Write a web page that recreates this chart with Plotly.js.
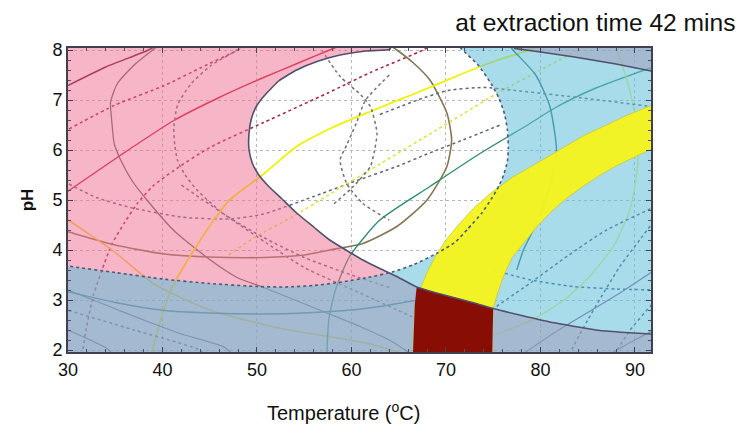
<!DOCTYPE html>
<html><head><meta charset="utf-8">
<script src="https://cdn.plot.ly/plotly-3.0.1.min.js"></script>
<style>html,body{margin:0;padding:0;background:#fff}#chart{width:737px;height:425px}</style>
</head><body><div id="chart"></div>
<script>
// ---------- tick labels ----------
const xTicks = [30, 40, 50, 60, 70, 80, 90];
const yTicks = [2, 3, 4, 5, 6, 7, 8];

// ---------- region boundaries (Temperature, pH) ----------
// boundary 1 (solid): from top, round the left vertex, down to right edge
const e1T  = [64.0, 64.1, 61.5, 58.8, 56.5, 54.2, 52.3, 50.7, 49.9, 49.4, 49.15, 49.15, 49.5, 50.2, 51.2, 52.6, 54.2, 56.0, 57.7, 59.5, 61.2, 63.0, 64.8, 66.9, 69.0, 71.0, 73.0, 75.0, 78.0, 81.0, 84.0, 86.3, 89.0, 92.5];
const e1PH = [8.2, 8.02, 7.98, 7.9, 7.78, 7.6, 7.38, 7.07, 6.86, 6.62, 6.32, 6.02, 5.74, 5.5, 5.28, 5.03, 4.74, 4.46, 4.2, 3.99, 3.8, 3.63, 3.47, 3.26, 3.14, 3.04, 2.94, 2.83, 2.69, 2.56, 2.46, 2.39, 2.35, 2.31];
// boundary 1, top-right part
const e1TRT  = [76.6, 77.3, 80.0, 83.6, 88.0, 92.5];
const e1TRPH = [8.2, 8.03, 7.96, 7.86, 7.72, 7.55];
// boundary 2 (dotted): from left edge, under, round right vertex, up to top
const e2T  = [29, 30, 35, 40, 45, 50, 53, 56, 59, 62, 64.5, 66.6, 69.1, 71.0, 72.3, 73.8, 74.8, 75.6, 76.1, 76.5, 76.6, 76.5, 76.2, 75.6, 74.8, 73.4, 71.6, 70.9];
const e2PH = [3.72, 3.68, 3.55, 3.42, 3.33, 3.27, 3.26, 3.29, 3.36, 3.46, 3.57, 3.71, 3.94, 4.16, 4.42, 4.74, 5.02, 5.28, 5.5, 5.77, 6.04, 6.4, 6.72, 7.04, 7.32, 7.7, 8.03, 8.2];
// yellow band edges
const yLeftT   = [66.5, 66.6, 66.7, 66.9, 67.3, 68.0, 68.9, 70.0, 71.4, 73.0, 74.9, 77.0, 79.3, 82.0, 84.7, 87.0, 89.0, 92.5];
const yLeftPH  = [1.9, 2.3, 2.8, 3.05, 3.24, 3.55, 3.88, 4.2, 4.52, 4.85, 5.16, 5.45, 5.7, 6.0, 6.3, 6.5, 6.68, 6.95];
const yRightT  = [74.9, 74.9, 75.0, 75.4, 76.1, 77.0, 78.2, 79.6, 81.1, 82.8, 84.7, 86.5, 88.2, 90.2, 92.5];
const yRightPH = [1.9, 2.4, 2.83, 3.1, 3.48, 3.85, 4.14, 4.46, 4.76, 5.04, 5.3, 5.52, 5.7, 5.88, 6.08];
// dark-red block (yellow band below boundary 1)
const redT  = [66.5, 66.6, 66.7, 66.9, 69.0, 71.0, 73.0, 75.0, 74.95, 74.9];
const redPH = [1.9, 2.4, 2.9, 3.26, 3.14, 3.04, 2.94, 2.83, 2.4, 1.9];

// ---------- contour lines ----------
const lines = [
  {name:'maroon',   T:[30, 34, 38.4, 39.5], P:[7.29, 7.66, 7.99, 8.1], c:'#6a0a2a', d:'solid', w:1.4},
  {name:'red',      T:[29.5, 30.1, 35.2, 41.2, 46, 50.7, 54.5, 57.7, 59], P:[5.12, 5.19, 5.85, 6.59, 7.05, 7.45, 7.75, 8.0, 8.1], c:'#d0102e', d:'solid', w:1.4},
  {name:'redDot1',  T:[30.1, 35, 40.2, 44, 47.9, 49], P:[6.42, 6.9, 7.29, 7.64, 7.99, 8.1], c:'#b0204a', d:'dot', w:1.6},
  {name:'redDot2',  T:[31.5, 31.9, 32.7, 33.6, 34.6, 36, 37.3, 39, 41.2, 45, 50.7, 57.5, 62, 67.6, 68.5], P:[1.9, 2.4, 3.1, 3.6, 4.1, 4.55, 4.92, 5.28, 5.59, 6.05, 6.55, 7.14, 7.55, 8.0, 8.1], c:'#b0204a', d:'dot', w:1.6},
  {name:'greyEll',  T:[40, 39.1, 37, 35.2, 34.5, 34.6, 34.9, 35.6, 36.8, 38.4, 41.2, 44.7, 47.9, 50.7, 54, 57.4, 60.9, 64, 66.5], P:[8.15, 8.02, 7.7, 7.32, 6.95, 6.65, 6.12, 5.79, 5.38, 4.99, 4.39, 3.85, 3.45, 3.25, 3.0, 2.74, 2.47, 2.2, 1.9], c:'#5e665a', d:'solid', w:1.3},
  {name:'dotCircle',T:[49, 47.9, 45.2, 43, 41.6, 41.2, 41.3, 41.6, 42.4, 43.7, 46.5, 50.7, 55, 60, 64], P:[8.15, 8.0, 7.7, 7.32, 6.9, 6.45, 6.1, 5.79, 5.5, 5.19, 4.72, 4.25, 3.85, 3.5, 3.25], c:'#606878', d:'dot', w:1.5},
  {name:'dotArcH',  T:[30.1, 33, 36.6, 42, 47.1, 50.7, 56, 60, 64.8, 68, 71.8, 76], P:[5.32, 5.05, 4.85, 4.66, 4.62, 4.72, 5.07, 5.35, 5.67, 5.92, 6.2, 6.52], c:'#606878', d:'dot', w:1.5},
  {name:'dotDiag',  T:[42, 44.3, 51, 55, 60.9, 66, 70], P:[5.3, 5.0, 4.14, 3.65, 3.14, 2.7, 2.35], c:'#606878', d:'dot', w:1.5},
  {name:'olive',    T:[29.5, 30.1, 35, 40.2, 45, 50.7, 55, 57.7, 61.2, 64.8, 68, 70.1, 70.6, 70.1, 68.3, 66.5, 64.8, 64], P:[4.39, 4.36, 4.1, 3.92, 3.86, 3.85, 3.9, 4.0, 4.13, 4.47, 5.0, 5.67, 6.2, 6.74, 7.4, 7.75, 8.0, 8.1], c:'#857552', d:'solid', w:1.6},
  {name:'yellow',   T:[38.8, 39.5, 40.3, 41.2, 43, 45.4, 47.1, 50.7, 54.2, 58, 62, 67, 71.8, 75.5, 78.9, 80], P:[1.9, 2.4, 2.9, 3.32, 3.9, 4.59, 5.0, 5.52, 6.07, 6.45, 6.77, 7.15, 7.53, 7.8, 8.0, 8.1], c:'#f2f200', d:'solid', w:1.8},
  {name:'yellow2',  T:[29.5, 30.1, 35, 39.1, 45, 52, 61.7, 66], P:[4.66, 4.59, 3.95, 3.32, 2.8, 2.45, 2.13, 1.9], c:'#f0d030', d:'solid', w:1.5},
  {name:'yellowDot',T:[47, 50, 53.8, 58, 63, 69, 75.4, 80, 84], P:[3.9, 4.28, 4.67, 5.15, 5.72, 6.4, 7.13, 7.6, 8.0], c:'#e2e23a', d:'dot', w:1.6},
  {name:'green',    T:[57.4, 57.6, 58.3, 59.8, 63, 68.3, 73.6, 78.9, 81.6, 86, 92.5], P:[1.9, 2.6, 3.2, 3.87, 4.6, 5.27, 5.93, 6.53, 6.85, 7.25, 7.7], c:'#2f8f6f', d:'solid', w:1.4},
  {name:'teal',     T:[76.5, 77.1, 79.5, 81, 81.7, 81.3, 80.5, 79.5, 78.2, 77.5], P:[8.15, 8.0, 7.5, 6.87, 6.0, 5.5, 5.0, 4.5, 4.0, 3.6], c:'#2a7070', d:'solid', w:1.4},
  {name:'lightArc', T:[87.5, 88, 89.3, 90.2, 90.3, 89.5, 87.8, 85.2, 82.5, 79.1, 75, 70], P:[8.15, 8.04, 7.3, 6.51, 5.7, 4.82, 4.1, 3.47, 3.0, 2.6, 2.3, 2.0], c:'#e8f070', d:'solid', w:1.4},
  {name:'dotArcTop',T:[63, 67, 70.2, 74, 77.3, 84, 92.5], P:[6.71, 7.0, 7.19, 7.25, 7.19, 7.05, 6.85], c:'#606878', d:'dot', w:1.5},
  {name:'lens1',    T:[56.5, 58.8, 61, 62, 62.7, 62.4, 62, 60.2, 58], P:[8.1, 7.47, 7.1, 6.87, 6.34, 5.95, 5.67, 5.27, 4.9], c:'#707070', d:'dot', w:1.5},
  {name:'lens2',    T:[64, 61.5, 60.5, 59.5, 58.8, 59.5, 61.2, 64], P:[7.5, 7.0, 6.53, 6.1, 5.8, 5.33, 4.93, 4.6], c:'#707070', d:'dot', w:1.5},
  {name:'bDot1',    T:[74.8, 79, 83, 87, 91.6, 92.5], P:[2.8, 3.35, 3.9, 4.4, 4.82, 4.9], c:'#3a5a80', d:'dot', w:1.5},
  {name:'bDot2',    T:[83, 85, 88.4, 90.5, 92.5], P:[1.9, 2.6, 3.67, 4.2, 4.7], c:'#3a5a80', d:'dot', w:1.5},
  {name:'bDot3',    T:[75, 79, 83.5, 88, 92.5], P:[3.6, 3.4, 3.27, 3.22, 3.2], c:'#3a5a80', d:'dot', w:1.5},
  {name:'bDot4',    T:[87.8, 89.5, 91.6, 92.5], P:[1.9, 2.4, 2.87, 3.05], c:'#3a5a80', d:'dot', w:1.5},
  {name:'purple1',  T:[78, 81.5, 85, 88.5, 92.5], P:[1.9, 2.35, 2.75, 3.15, 3.65], c:'#8a5a9a', d:'solid', w:1.3},
  {name:'purple2',  T:[87.2, 89.5, 92.5], P:[1.9, 2.15, 2.45], c:'#8a5a9a', d:'solid', w:1.3},
  {name:'sTeal',    T:[29.5, 30.1, 35, 40.2, 45, 50.7, 55, 60, 64, 67], P:[3.18, 3.16, 2.95, 2.79, 2.74, 2.72, 2.74, 2.8, 2.9, 3.0], c:'#1f7080', d:'solid', w:1.3},
  {name:'sGrey1',   T:[29.5, 30.1, 34, 38, 42, 46.5, 47.5], P:[3.23, 3.19, 2.9, 2.6, 2.32, 2.06, 1.9], c:'#5a5a78', d:'solid', w:1.3},
  {name:'sGrey2',   T:[29.5, 30.1, 34.2, 34.7], P:[2.43, 2.39, 2.02, 1.9], c:'#5a5a78', d:'solid', w:1.3},
  {name:'sDot',     T:[29.5, 30.1, 37, 43.7, 44.5], P:[2.83, 2.79, 2.4, 2.02, 1.9], c:'#3a5a80', d:'dot', w:1.5}
];

const traces = [];
lines.forEach(l => traces.push({x:l.T, y:l.P, mode:'lines', type:'scatter', hoverinfo:'skip',
  line:{color:l.c, width:l.w, dash:l.d, shape:'spline', smoothing:0.6}}));

// pink layer: outside boundary 1
traces.push({x:[29].concat(e1T, [93, 93, 29]), y:[8.2].concat(e1PH, [2.31, 1.8, 1.8]),
  mode:'lines', fill:'toself', fillcolor:'rgba(240,110,145,0.5)', line:{width:0, shape:'spline', smoothing:0.5}, hoverinfo:'skip'});
traces.push({x:e1TRT.concat([93, 93]), y:e1TRPH.concat([7.55, 8.2]),
  mode:'lines', fill:'toself', fillcolor:'rgba(240,110,145,0.5)', line:{width:0}, hoverinfo:'skip'});
// blue layer: outside boundary 2
traces.push({x:e2T.concat([93, 93, 29]), y:e2PH.concat([8.2, 1.8, 1.8]),
  mode:'lines', fill:'toself', fillcolor:'rgba(94,190,216,0.54)', line:{width:0, shape:'spline', smoothing:0.5}, hoverinfo:'skip'});
// yellow band
traces.push({x:yLeftT.concat(yRightT.slice().reverse()), y:yLeftPH.concat(yRightPH.slice().reverse()),
  mode:'lines', fill:'toself', fillcolor:'rgba(244,244,30,0.96)', line:{width:0.8, color:'#c8c840'}, hoverinfo:'skip'});
// dark red block
traces.push({x:redT, y:redPH, mode:'lines', fill:'toself', fillcolor:'#880e05', line:{width:0}, hoverinfo:'skip'});
// boundary lines on top
traces.push({x:e1T, y:e1PH, mode:'lines', line:{color:'#52506c', width:1.6, shape:'spline', smoothing:0.5}, hoverinfo:'skip'});
traces.push({x:e1TRT, y:e1TRPH, mode:'lines', line:{color:'#52506c', width:1.6}, hoverinfo:'skip'});
traces.push({x:e2T, y:e2PH, mode:'lines', line:{color:'#4a5a78', width:1.6, dash:'dot', shape:'spline', smoothing:0.5}, hoverinfo:'skip'});

const font = 'Liberation Sans, Arial, sans-serif';
const layout = {
  width:737, height:425,
  margin:{l:68, r:86, t:48, b:73},
  paper_bgcolor:'#ffffff', plot_bgcolor:'#ffffff',
  showlegend:false,
  title:{text:'at extraction time 42 mins', font:{family:font, size:24.6, color:'#111'},
         x:0.998, xref:'container', xanchor:'right', y:0.948, yref:'container', yanchor:'middle'},
  annotations:[{text:'Temperature (<sup>o</sup>C)', xref:'paper', yref:'paper', x:0.473, y:-0.197,
                xanchor:'center', yanchor:'middle', showarrow:false,
                font:{family:font, size:20, color:'#111'}}],
  xaxis:{range:[30, 91.7], tickvals:xTicks, ticktext:xTicks.map(String),
         showgrid:true, gridcolor:'#b8b8b8', griddash:'dot', gridwidth:1,
         showline:true, linecolor:'#404050', linewidth:2, mirror:'allticks',
         ticks:'inside', ticklen:5, tickcolor:'#404050',
         minor:{dtick:2, ticks:'inside', ticklen:3, tickcolor:'#505060', showgrid:false},
         tickfont:{family:font, size:18, color:'#111'}, zeroline:false},
  yaxis:{range:[1.96, 8.04], tickvals:yTicks, ticktext:yTicks.map(String),
         showgrid:true, gridcolor:'#b8b8b8', griddash:'dot', gridwidth:1,
         showline:true, linecolor:'#404050', linewidth:2, mirror:'allticks',
         ticks:'inside', ticklen:5, tickcolor:'#404050',
         minor:{dtick:0.2, ticks:'inside', ticklen:3, tickcolor:'#505060', showgrid:false},
         tickfont:{family:font, size:18, color:'#111'}, zeroline:false,
         title:{text:'pH', font:{family:font, size:17, color:'#111', weight:'bold'}, standoff:14}}
};
Plotly.newPlot('chart', traces, layout, {staticPlot:true, displayModeBar:false});
</script></body></html>
